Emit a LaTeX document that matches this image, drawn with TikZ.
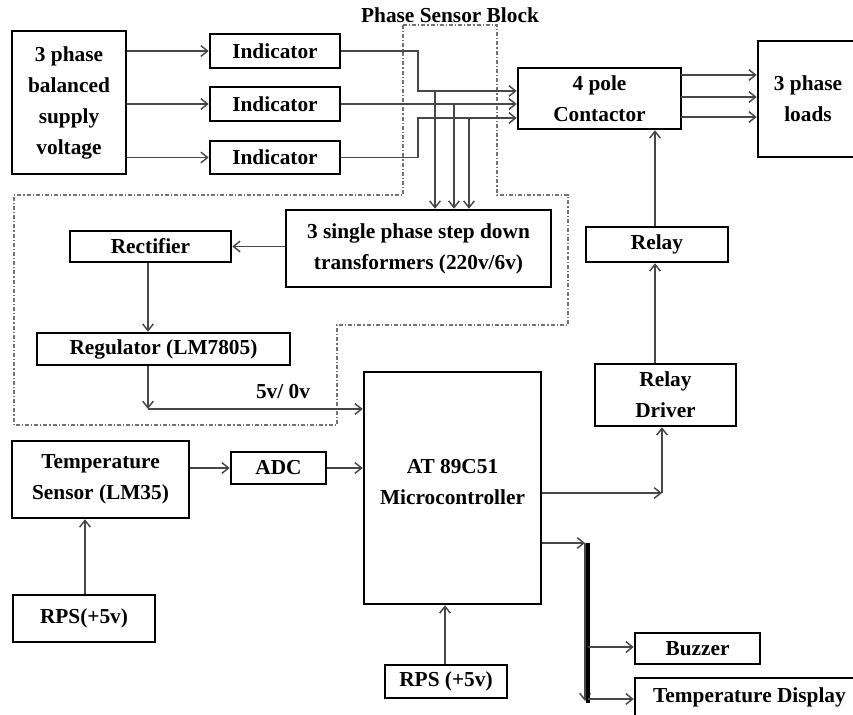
\documentclass[tikz,border=0pt]{standalone}
\usepackage{fontspec}
\setmainfont{Liberation Serif}
\usetikzlibrary{arrows.meta,fit}
\begin{document}
\begin{tikzpicture}[x=0.75pt,y=-0.75pt,
 box/.style={draw=black, line width=1.9pt, inner sep=0pt},
 txt/.style={align=center, inner sep=0pt, font=\bfseries\fontsize{16}{23.25}\selectfont},
 lbl/.style={font=\bfseries\fontsize{16}{19}\selectfont, inner sep=1pt},
 arr/.style={draw=black!72, line width=1.1pt, -{Straight Barb[length=5pt,width=8pt,line width=1.1pt]}},
 bnd/.style={draw=black!55, line width=1.1pt, dash pattern=on 3pt off 1.5pt on 0.9pt off 1.5pt}]
\useasboundingbox (0,0) rectangle (853,714);
\clip (0,0) rectangle (853,714);
\fill[white] (0,0) rectangle (853,714);

% Phase sensor block boundary
\draw[bnd] (403,25) -- (497,25) -- (497,195) -- (568,195) -- (568,325) -- (337,325) -- (337,425) -- (14,425) -- (14,195) -- (403,195) -- cycle;
\node[lbl] (title) at (450,15) {Phase Sensor Block};

% Boxes
\node[box, fit={(12,31) (126,174)}, label={[txt]center:{3 phase\\balanced\\supply\\voltage}}] (sup) {};
\node[box, fit={(210,34) (340,68)}, label={[txt]center:Indicator}] (ind1) {};
\node[box, fit={(210,87) (340,121)}, label={[txt]center:Indicator}] (ind2) {};
\node[box, fit={(210,141) (340,174)}, label={[txt]center:Indicator}] (ind3) {};
\node[box, fit={(518,68) (681,129)}, label={[txt]center:{4 pole\\Contactor}}] (con) {};
\node[box, fit={(758,41) (858,157)}, label={[txt]center:{3 phase\\loads}}] (loads) {};
\node[box, fit={(286,210) (551,287)}, label={[txt]center:{3 single phase step down\\transformers (220v/6v)}}] (trf) {};
\node[box, fit={(70,231) (231,262)}, label={[txt]center:Rectifier}] (rect) {};
\node[box, fit={(37,333) (290,365)}, label={[txt]center:Regulator (LM7805)}] (reg) {};
\node[box, fit={(364,372) (541,604)}] (mcu) {};
\node[txt] (mcut) at (452.5,482) {AT 89C51\\Microcontroller};
\node[box, fit={(595,364) (736,426)}, label={[txt]center:{Relay\\Driver}}] (drv) {};
\node[box, fit={(586,227) (728,262)}, label={[txt]center:Relay}] (rel) {};
\node[box, fit={(12,441) (189,518)}, label={[txt]center:{Temperature\\Sensor (LM35)}}] (tmp) {};
\node[box, fit={(231,452) (326,484)}, label={[txt]center:ADC}] (adc) {};
\node[box, fit={(13,595) (155,642)}, label={[txt]center:RPS(+5v)}] (rps1) {};
\node[box, fit={(385,665) (507,698)}, label={[txt]center:RPS (+5v)}] (rps2) {};
\node[box, fit={(635,633) (760,664)}, label={[txt]center:Buzzer}] (buz) {};
\node[box, fit={(635,678) (864,716)}] (tdisp) {};
\node[txt] (tdispt) at (749.5,697) {Temperature Display};

% supply -> indicators
\draw[arr] (sup.east |- ind1.west) -- (ind1.west);
\draw[arr] (sup.east |- ind2.west) -- (ind2.west);
\draw[arr] (sup.east |- ind3.west) -- (ind3.west);

% indicators -> contactor
\coordinate (j1) at (418,91);
\coordinate (j3) at (418,118);
\draw[arr] (ind1.east) -| (j1) -- (j1 -| con.west);
\draw[arr] (ind2.east) -- (ind2.east -| con.west);
\draw[arr] (ind3.east) -| (j3) -- (j3 -| con.west);

% drops to transformer
\coordinate (d1) at (435,91);
\coordinate (d2) at (454,104);
\coordinate (d3) at (469,118);
\draw[arr] (d1) -- (d1 |- trf.north);
\draw[arr] (d2) -- (d2 |- trf.north);
\draw[arr] (d3) -- (d3 |- trf.north);

% contactor -> loads
\coordinate (c1) at (681,75);
\coordinate (c2) at (681,97);
\coordinate (c3) at (681,117);
\draw[arr] (c1) -- (c1 -| loads.west);
\draw[arr] (c2) -- (c2 -| loads.west);
\draw[arr] (c3) -- (c3 -| loads.west);

% transformer -> rectifier -> regulator -> mcu
\draw[arr] (trf.west |- rect.east) -- (rect.east);
\coordinate (v) at (148,409);
\draw[arr] (v |- rect.south) -- (v |- reg.north);
\draw[arr] (v |- reg.south) -- (v);
\draw[arr] (v) -- (v -| mcu.west);
\node[lbl] (volt) at (283,392) {5v/ 0v};

% temperature chain
\draw[arr] (tmp.east |- adc.west) -- (adc.west);
\draw[arr] (adc.east) -- (adc.east -| mcu.west);
\coordinate (r1) at (85,0);
\draw[arr] (r1 |- rps1.north) -- (r1 |- tmp.south);
\coordinate (r2) at (445,0);
\draw[arr] (r2 |- rps2.north) -- (r2 |- mcu.south);

% mcu -> relay driver -> relay -> contactor
\coordinate (m1) at (662,493);
\draw[arr] (m1 -| mcu.east) -- (m1);
\draw[arr] (m1) -- (m1 |- drv.south);
\coordinate (rr) at (655,0);
\draw[arr] (rr |- drv.north) -- (rr |- rel.south);
\draw[arr] (rr |- rel.north) -- (rr |- con.south);

% bus
\coordinate (b0) at (585,543);
\coordinate (bb) at (585,701);
\draw[arr] (b0 -| mcu.east) -- (b0);
\draw[arr] (b0) -- (bb);
\draw[line width=3.6pt] (588,543) -- (588,703);
\coordinate (bz) at (588,647);
\coordinate (bt) at (588,699);
\draw[arr] (bz) -- (bz -| buz.west);
\draw[arr] (bt) -- (bt -| tdisp.west);
\end{tikzpicture}
\end{document}
